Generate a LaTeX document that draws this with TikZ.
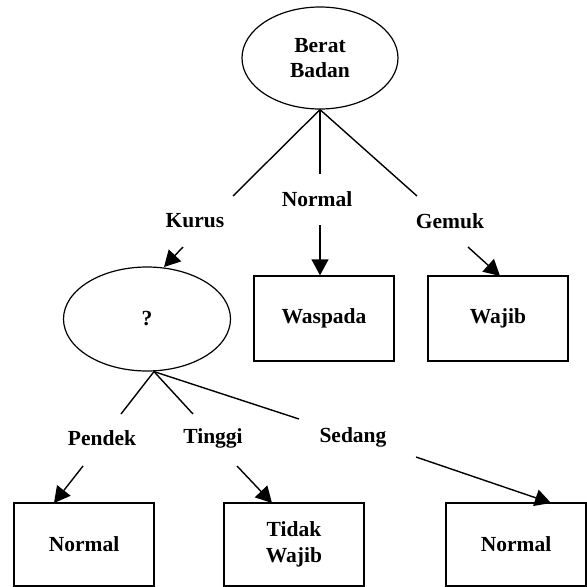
\documentclass[tikz,border=0pt]{standalone}
\usepackage{fontspec}
\setmainfont{Liberation Serif}
\usetikzlibrary{shapes.geometric,arrows.meta}
\begin{document}
\begin{tikzpicture}[x=1pt,y=-1pt,line width=1.4pt,
  every node/.style={font=\fontsize{21.5}{25.5}\selectfont\bfseries},
  ell/.style={draw,ellipse,inner sep=0pt,line width=1.2pt,align=center},
  box/.style={draw,rectangle,inner sep=0pt,align=center,minimum width=140pt},
  lbl/.style={inner sep=0pt},
  arr/.style={-{Triangle[length=16pt,width=17pt]}}]
\useasboundingbox (0,0) rectangle (587,587);
% nodes
\node[ell,minimum width=156pt,minimum height=102pt] (root) at (320,58) {Berat\\Badan};
\node[ell,minimum width=167pt,minimum height=104pt] (q) at (147,319) {?};
\node[box,minimum height=85pt] (wasp) at (324,318.5) {Waspada};
\node[box,minimum height=85pt] (wajib) at (498,318.5) {Wajib};
\node[box,minimum height=83pt] (norL) at (84,544.5) {Normal};
\node[box,minimum height=83pt] (tidak) at (294,544.5) {Tidak\\Wajib};
\node[box,minimum height=83pt] (norR) at (516,544.5) {Normal};
% labels
\node[lbl] (kurus) at (195,221) {Kurus};
\node[lbl] (normal) at (317,199) {Normal};
\node[lbl] (gemuk) at (450,221) {Gemuk};
\node[lbl] (pendek) at (102,438) {Pendek};
\node[lbl] (tinggi) at (213,438) {Tinggi};
\node[lbl] (sedang) at (353,437) {Sedang};
% line ends
\coordinate (k1) at (233,196);
\coordinate (n1) at (320,174);
\coordinate (g1) at (417,196);
\coordinate (k2) at (183,247);
\coordinate (n2) at (320,225);
\coordinate (g2) at (468,247);
\coordinate (p1) at (121,414);
\coordinate (t1) at (193,414);
\coordinate (s1) at (299,419);
\coordinate (p2) at (83,466);
\coordinate (t2) at (237,466);
\coordinate (s2) at (416,457);
\coordinate (qtop) at (164,267);
\coordinate (gtip) at (500,276);
\coordinate (pt) at (54,503);
\coordinate (tt) at (272,503);
\coordinate (st) at (551,503);
% connectors
\draw (root.south) -- (k1);
\draw (root.south) -- (n1);
\draw (root.south) -- (g1);
\draw[arr] (k2) -- (qtop);
\draw[arr] (n2) -- (n2 |- wasp.north);
\draw[arr] (g2) -- (gtip);
\coordinate (qs) at ([xshift=7pt]q.south);
\draw (qs) -- (p1);
\draw (qs) -- (t1);
\draw (qs) -- (s1);
\draw[arr] (p2) -- (pt);
\draw[arr] (t2) -- (tt);
\draw[arr] (s2) -- (st);
\end{tikzpicture}
\end{document}
